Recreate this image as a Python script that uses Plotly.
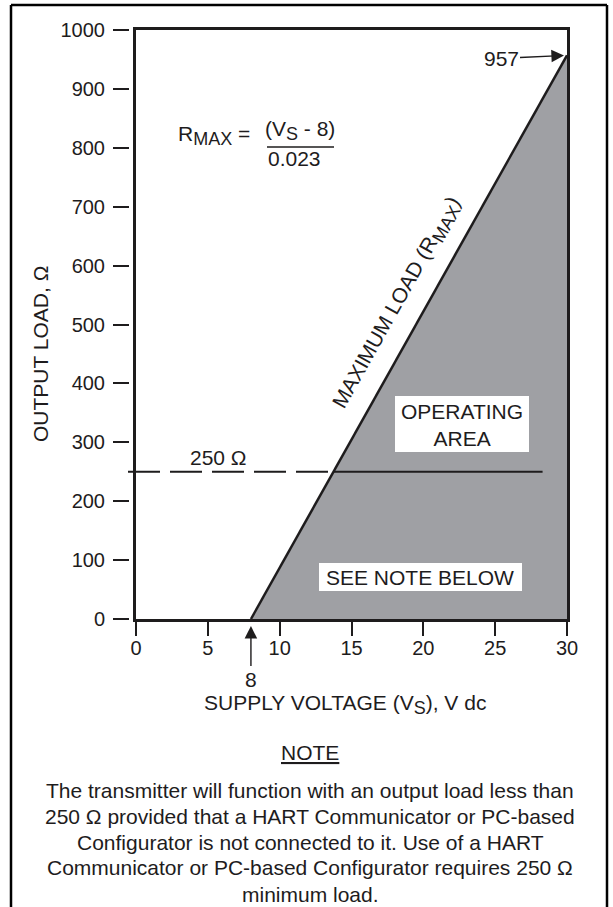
import plotly.graph_objects as go

# ---- data ----
v_min = 8            # V, minimum supply voltage
v_max = 30           # V
r_at_vmax = 957      # ohm, max load at 30 V
hart_min_load = 250  # ohm
hart_line_x = [-0.55, 28.3]
x_ticks = [0, 5, 10, 15, 20, 25, 30]
y_ticks = [0, 100, 200, 300, 400, 500, 600, 700, 800, 900, 1000]

FONT = "Liberation Sans, Arial, Helvetica, sans-serif"
INK = "#1e1c1d"
GRAY = "#9fa0a4"

W, H = 613, 907
ML, MR, MT, MB = 100, 46, 30, 288
PW = W - ML - MR
PH = H - MT - MB


def px_x(px):
    return (px - ML) / PW


def px_y(py):
    return (H - MB - py) / PH


def dx(px):
    return (px - 136) / (567 - 136) * 30


def dy(py):
    return (619 - py) / 589 * 1000


def sub(t, size=17):
    return "<sub><span style='font-size:%dpx'>%s</span></sub>" % (size, t)


x_cross = v_min + hart_min_load * (v_max - v_min) / r_at_vmax

fig = go.Figure()

fig.add_trace(go.Scatter(
    x=[v_min, v_max, v_max, v_min], y=[0, r_at_vmax, 0, 0],
    fill="toself", fillcolor=GRAY, mode="lines", line=dict(width=0),
    hoverinfo="skip", showlegend=False))

fig.add_trace(go.Scatter(
    x=[0, x_cross], y=[hart_min_load, hart_min_load], mode="lines",
    line=dict(color=INK, width=2,
              dash="24px,10px,32px,10px,32px,10px,32px,10px,32px,10px,"
                   "32px,10px,32px,10px"),
    hoverinfo="skip", showlegend=False))
fig.add_trace(go.Scatter(
    x=[x_cross, hart_line_x[1]], y=[hart_min_load, hart_min_load],
    mode="lines", line=dict(color=INK, width=2),
    hoverinfo="skip", showlegend=False))

fig.add_trace(go.Scatter(
    x=[v_min, v_max], y=[0, r_at_vmax], mode="lines",
    line=dict(color=INK, width=2.5), hoverinfo="skip", showlegend=False))

fig.add_trace(go.Scatter(x=[0], y=[0], yaxis="y2", mode="markers",
                         marker=dict(opacity=0), hoverinfo="skip",
                         showlegend=False))

shapes = []
shapes.append(dict(type="rect", xref="x", yref="y", x0=dx(395), x1=dx(529),
                   y0=dy(452), y1=dy(396), fillcolor="white",
                   line=dict(width=0), layer="above"))
shapes.append(dict(type="rect", xref="x", yref="y", x0=dx(319), x1=dx(522),
                   y0=dy(591), y1=dy(563), fillcolor="white",
                   line=dict(width=0), layer="above"))
shapes.append(dict(type="line", xref="paper", yref="y",
                   x0=px_x(128), x1=px_x(136),
                   y0=hart_min_load, y1=hart_min_load,
                   line=dict(color=INK, width=2)))
shapes.append(dict(type="line", xref="paper", yref="paper",
                   x0=px_x(11), x1=px_x(11), y0=px_y(5), y1=px_y(910),
                   line=dict(color="black", width=2.5)))
shapes.append(dict(type="line", xref="paper", yref="paper",
                   x0=px_x(11), x1=px_x(607), y0=px_y(5), y1=px_y(5),
                   line=dict(color="black", width=2.5)))
shapes.append(dict(type="line", xref="paper", yref="paper",
                   x0=px_x(607), x1=px_x(607), y0=px_y(5), y1=px_y(910),
                   line=dict(color="black", width=2.5)))
shapes.append(dict(type="line", xref="paper", yref="paper",
                   x0=px_x(267), x1=px_x(334), y0=px_y(147), y1=px_y(147),
                   line=dict(color=INK, width=1.5)))

f = dict(family=FONT, size=21, color=INK)
ann = []


def add(x, y, text, ref="paper", font=f, **kw):
    d = dict(text=text, showarrow=False, font=font, xanchor="center",
             yanchor="middle")
    if ref == "paper":
        d.update(x=px_x(x), y=px_y(y), xref="paper", yref="paper")
    else:
        d.update(x=x, y=y, xref="x", yref="y")
    d.update(kw)
    ann.append(d)


add(462, 425, "OPERATING<br>AREA", align="center")
add(420, 577, "SEE NOTE BELOW")
add(dx(397), dy(303), "MAXIMUM LOAD (R" + sub("MAX", 18) + ")", ref="data",
    textangle=-60.7)
add(218, 457, "250 Ω")
ann.append(dict(x=v_max, y=r_at_vmax, xref="x", yref="y", text="957",
                showarrow=True, ax=-66, ay=3, arrowhead=2, arrowsize=1.8,
                arrowwidth=1.4, arrowcolor=INK, standoff=3, font=f))
ann.append(dict(x=v_min, y=0, xref="x", yref="y", text="8",
                showarrow=True, ax=0, ay=60, arrowhead=2, arrowsize=1.8,
                arrowwidth=1.4, arrowcolor=INK, standoff=7, font=f))
add(252, 135, "R" + sub("MAX", 18) + " =", xanchor="right")
add(300, 130, "(V" + sub("S", 18) + " - 8)")
add(294, 159, "0.023")
add(345, 704, "SUPPLY VOLTAGE (V" + sub("S", 18) + "), V dc")
add(40, 354, "OUTPUT LOAD, Ω", textangle=-90)
add(310, 752, "<u>NOTE</u>")
note_lines = [
    "The transmitter will function with an output load less than",
    "250 Ω provided that a HART Communicator or PC-based",
    "Configurator is not connected to it. Use of a HART",
    "Communicator or PC-based Configurator requires 250 Ω",
    "minimum load.",
]
for i, line in enumerate(note_lines):
    add(310, 790 + 26 * i, line)

fig.update_layout(
    width=W, height=H, margin=dict(l=ML, r=MR, t=MT, b=MB),
    paper_bgcolor="white", plot_bgcolor="white",
    shapes=shapes, annotations=ann, showlegend=False,
    xaxis=dict(domain=[px_x(136), 1], range=[0, 30], tickvals=x_ticks,
               ticks="outside", ticklen=14, tickwidth=2, tickcolor=INK,
               showline=True, linewidth=2.5, linecolor=INK, mirror=True,
               showgrid=False, zeroline=False,
               tickfont=dict(family=FONT, size=20, color=INK),
               ticklabelstandoff=-5, fixedrange=True),
    yaxis=dict(range=[0, 1000], showline=True, linewidth=2.5, linecolor=INK,
               mirror=True, showgrid=False, zeroline=False,
               showticklabels=False, ticks="", fixedrange=True),
    yaxis2=dict(overlaying="y", anchor="free", position=px_x(129),
                range=[0, 1000], tickvals=y_ticks, ticks="outside",
                ticklen=16, tickwidth=2, tickcolor=INK, showline=False,
                showgrid=False, zeroline=False,
                tickfont=dict(family=FONT, size=20, color=INK),
                ticklabelstandoff=4, fixedrange=True),
)

fig.write_html(
    "out.html",
    config={"displayModeBar": False},
    post_script="document.body.style.margin='0';"
                "document.body.style.overflow='hidden';",
)
